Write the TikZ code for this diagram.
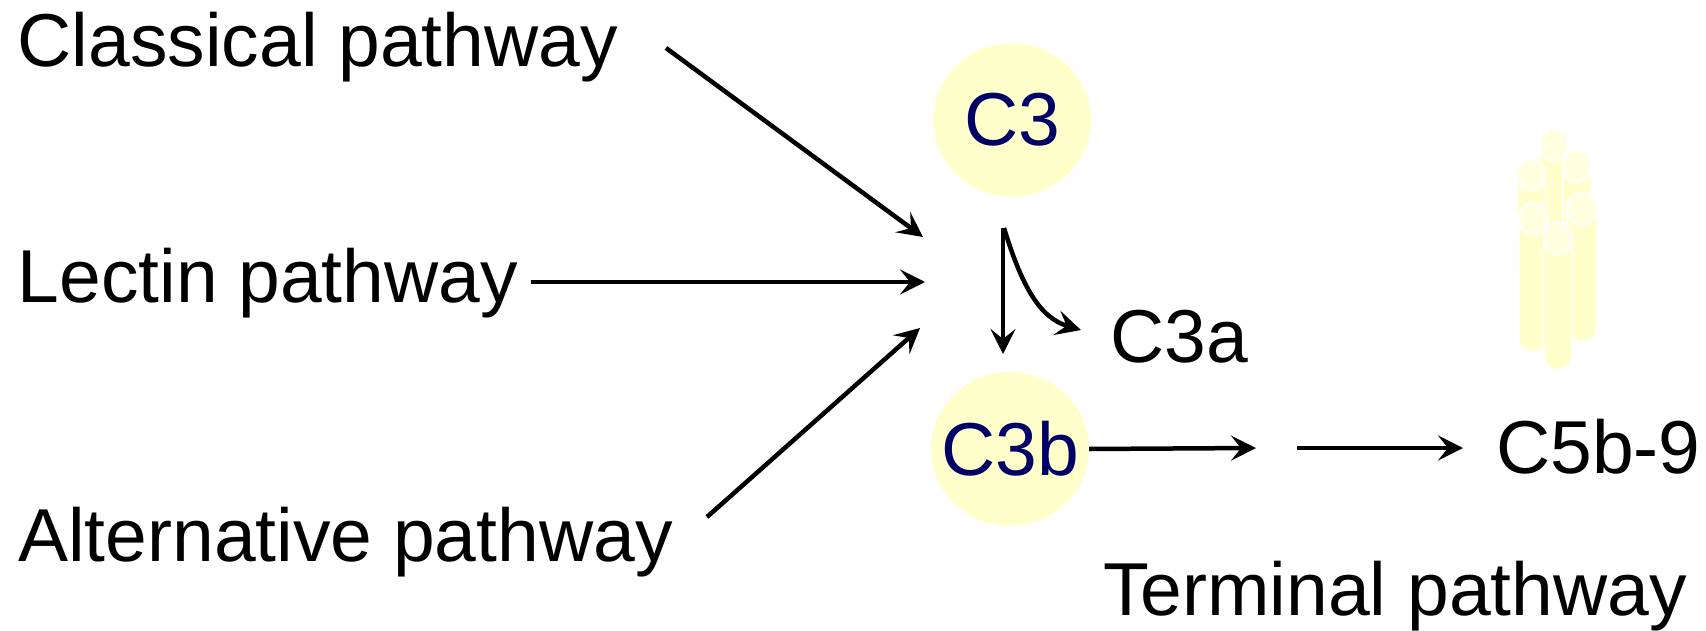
\documentclass[tikz,border=0pt]{standalone}
\usepackage{fontspec}
\setmainfont{Liberation Sans}
\usetikzlibrary{arrows.meta,shapes.geometric}
\definecolor{paleyellow}{RGB}{255,255,204}
\definecolor{lightcap}{RGB}{255,255,224}
\definecolor{navytext}{RGB}{0,0,102}
\tikzset{
  label/.style={anchor=base west, inner sep=0pt, font=\fontsize{75}{75}\selectfont},
  comp/.style={ellipse, fill=paleyellow, inner sep=0pt, minimum width=158pt, minimum height=154pt,
    text=navytext, font=\fontsize{75}{75}\selectfont},
  arr/.style={line width=4.5pt, -{Stealth[length=25pt,width=25pt,inset=10pt]}},
  tube/.style={fill=paleyellow, draw=white, line width=1.5pt},
  tubecap/.style={fill=lightcap, draw=white, line width=2pt}
}
% one tube of the pore: centre x, top y, bottom y, radius
\newcommand{\porecyl}[4]{%
  \path[tube] (#1-#4,#2) -- (#1-#4,#3-#4) arc[start angle=180, end angle=0, radius=#4] -- (#1+#4,#2) -- cycle;
  \path[tubecap] (#1,#2) ellipse[x radius=#4, y radius=16];
}
\begin{document}
\begin{tikzpicture}[x=1pt,y=-1pt]
\useasboundingbox (0,0) rectangle (1706,631);

% pathway labels
\node[label] (classical) at (17.5,67) {Classical pathway};
\node[label] (lectin) at (17.5,302) {Lectin pathway};
\node[label] (alternative) at (18,561) {Alternative pathway};

% complement components (text boxed to zero width so the disc keeps its size)
\node[comp] (c3) at (1012,120) {\makebox[0pt]{C3}};
\node[comp] (c3b) at (1010,449) {\makebox[0pt]{C3b}};
\node[label] (c3a) at (1110,362) {C3a};
\node[label] (c5b9) at (1496,473) {C5b-9};
\node[label] (terminal) at (1103,615) {Terminal pathway};

% arrow end points
\coordinate (clS) at (666,48);
\coordinate (clE) at (923,237);
\coordinate (leS) at (531,282);
\coordinate (leE) at (925,282);
\coordinate (alS) at (707,517);
\coordinate (alE) at (920,328);
\coordinate (splitS) at (1003,228);
\coordinate (splitE) at (1003,354);
\coordinate (c3aE) at (1081,330);
\coordinate (midE) at (1256,448);
\coordinate (midS) at (1297,448);
\coordinate (c5E) at (1463,448);

\draw[arr] (clS) -- (clE);
\draw[arr] (leS) -- (leE);
\draw[arr] (alS) -- (alE);
\draw[arr] (splitS) -- (splitE);
\draw[arr] ([xshift=1pt]splitS) .. controls (1022,287) and (1040,318) .. (c3aE);
\draw[arr] (c3b.east) -- (midE);
\draw[arr] (midS) -- (c5E);

% membrane attack complex pore
\porecyl{1554}{145}{320}{14}
\porecyl{1531}{175}{297}{14}
\porecyl{1577}{166}{310}{14}
\porecyl{1582}{209}{342}{15}
\porecyl{1533}{219}{352}{14}
\porecyl{1558}{238}{370}{14}
\end{tikzpicture}
\end{document}
